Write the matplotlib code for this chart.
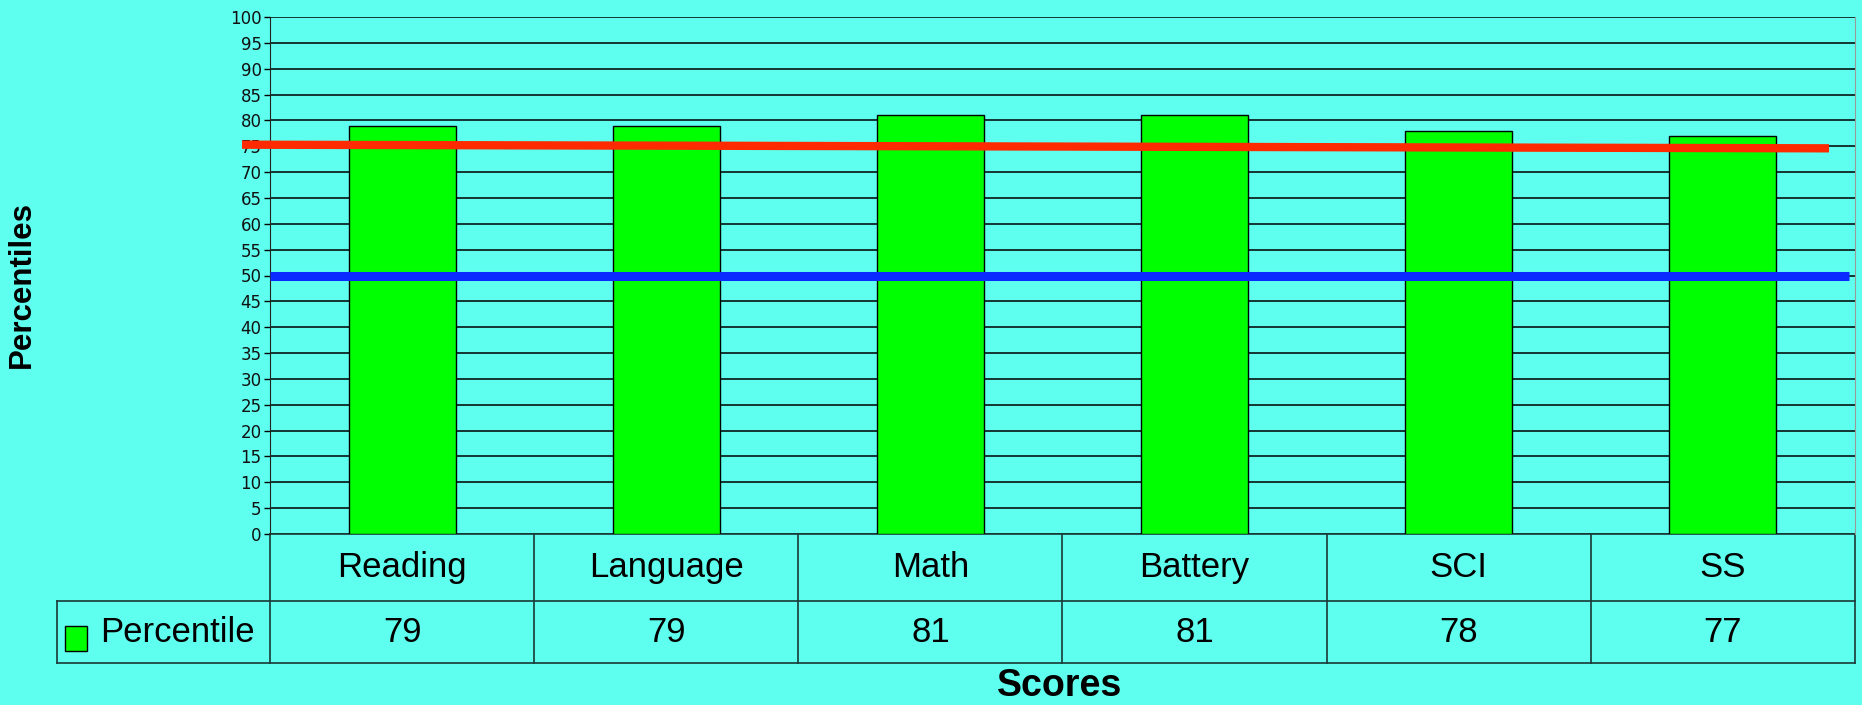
import matplotlib.pyplot as plt

# data
categories = ["Reading", "Language", "Math", "Battery", "SCI", "SS"]
percentile = [79, 79, 81, 81, 78, 77]
series_name = "Percentile"
red_line = [75.3, 74.6]   # start / end value of the red reference line
blue_line = [50, 50]
y_ticks = list(range(0, 101, 5))

bg = "#5fffef"
sans = ["Liberation Sans", "DejaVu Sans"]

W, H = 1862, 705
fig = plt.figure(figsize=(W / 100, H / 100), dpi=100, facecolor=bg)
# axes placed in pixel terms: left 270, right 1855, top 17, bottom 534
ax = fig.add_axes([270 / W, (H - 534) / H, (1855 - 270) / W, (534 - 17) / H])
ax.set_facecolor(bg)

x = list(range(len(categories)))
ax.bar(x, percentile, width=0.405, color="#00ff00", edgecolor="black", linewidth=1, zorder=3)

ax.set_xlim(-0.5, len(categories) - 0.5)
ax.set_ylim(0, 100)
ax.set_yticks(y_ticks)
ax.set_yticklabels([str(t) for t in y_ticks], fontsize=12, color="#111111")
ax.tick_params(axis="y", length=4, width=1, pad=2)
ax.set_xticks([])
ax.grid(axis="y", color="black", linewidth=1.1, zorder=1)
ax.set_axisbelow(True)
for s in ["top", "bottom"]:
    ax.spines[s].set_visible(False)
ax.spines["left"].set_color("#222222")
ax.spines["right"].set_color("#999999")

# reference lines
px = (1855 - 270) / len(categories)
ax.plot([-0.5 - 28 / px, -0.5 + (1829 - 270) / px], red_line, color="#ff2a00",
        linewidth=6, zorder=5, clip_on=False, solid_capstyle="butt")
ax.plot([-0.5, -0.5 + (1849 - 270) / px], blue_line, color="#0a2aff",
        linewidth=6.5, zorder=5, clip_on=False, solid_capstyle="butt")

# data table under the plot
tr = ax.get_xaxis_transform()
ah = 534 - 17
r1 = -(601 - 534) / ah
r2 = -(663 - 534) / ah
left_cell = -0.5 - (270 - 57) / px
xe = len(categories) - 0.5
lc = "#1a3a36"
kw = dict(transform=tr, clip_on=False, color=lc, linewidth=1.2)
ax.plot([-0.5, xe], [0, 0], **kw)
ax.plot([left_cell, xe], [r1, r1], **kw)
ax.plot([left_cell, xe], [r2, r2], **kw)
ax.plot([left_cell, left_cell], [r1, r2], **kw)
for k in range(len(categories) + 1):
    ax.plot([k - 0.5, k - 0.5], [0, r2], **kw)

for i, (c, v) in enumerate(zip(categories, percentile)):
    ax.text(i, r1 / 2, c, transform=tr, ha="center", va="center",
            fontsize=25, family=sans, color="black")
    ax.text(i, (r1 + r2) / 2, str(v), transform=tr, ha="center", va="center",
            fontsize=25, family=sans, color="black")

# legend key in the table
sq_x0 = -0.5 - (270 - 65) / px
sq_w = 22 / px
ax.add_patch(plt.Rectangle((sq_x0, -(651 - 534) / ah), sq_w, 25 / ah, transform=tr,
                           facecolor="#00ff00", edgecolor="black", linewidth=1,
                           clip_on=False))
ax.text(-0.5 - (270 - 100) / px, (r1 + r2) / 2, series_name, transform=tr,
        ha="left", va="center", fontsize=25, family=sans, color="black")

fig.text(1060 / W, 1 - 686 / H, "Scores", ha="center", va="center",
         fontsize=27, fontweight="bold", family=sans)
fig.text(22 / W, 1 - 285 / H, "Percentiles", ha="center", va="center", rotation=90,
         fontsize=22.5, fontweight="bold", family=sans)

fig.savefig("out.png", dpi=100, facecolor=bg)
